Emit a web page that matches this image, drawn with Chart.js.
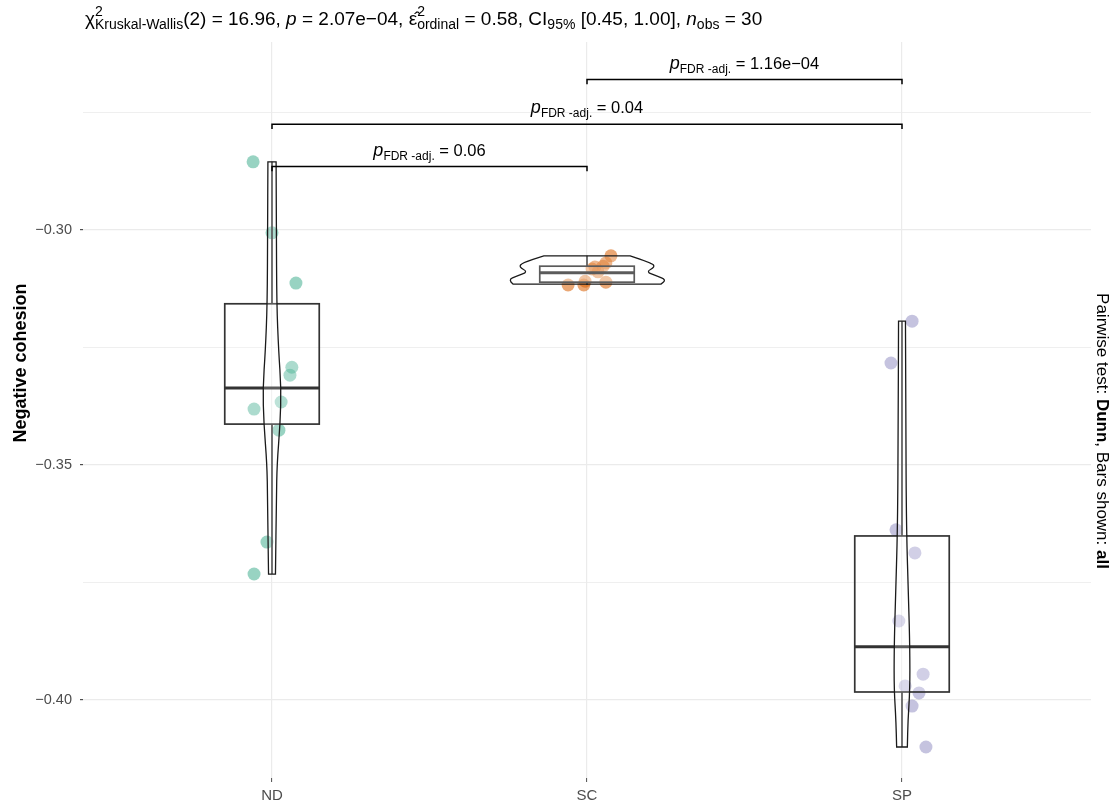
<!DOCTYPE html>
<html>
<head>
<meta charset="utf-8">
<script src="https://cdn.jsdelivr.net/npm/chart.js@4/dist/chart.umd.min.js"></script>
<style>
  html, body { margin: 0; padding: 0; background: #ffffff; }
  #wrap { width: 1116px; height: 809px; }
</style>
</head>
<body>
<div id="wrap"><canvas id="c" width="1116" height="809"></canvas></div>
<script>
// ---- data ----
const categories = ['ND', 'SC', 'SP'];

// observed values per group and their horizontal jitter (in category units)
const ndValues = [-0.2855, -0.3006, -0.3113, -0.3292, -0.3309, -0.3366, -0.3381, -0.3426, -0.3664, -0.3732];
const ndJitter = [-0.060, 0.000, 0.076, 0.063, 0.057, 0.029, -0.057, 0.022, -0.016, -0.057];
const scValues = [-0.3055, -0.3070, -0.3077, -0.3079, -0.3083, -0.3089, -0.3109, -0.3111, -0.3117, -0.3117];
const scJitter = [0.076, 0.060, 0.051, 0.025, 0.016, 0.035, -0.006, 0.060, -0.010, -0.060];
const spValues = [-0.3194, -0.3283, -0.3638, -0.3687, -0.3832, -0.3945, -0.3970, -0.3985, -0.4013, -0.4100];
const spJitter = [0.032, -0.035, -0.019, 0.041, -0.010, 0.067, 0.010, 0.054, 0.032, 0.076];

// box-plot statistics (ND, SC, SP)
const whiskerHigh = [-0.2855, -0.3055, -0.3194];
const boxQ3       = [-0.3157, -0.3077, -0.3651];
const boxMedian   = [-0.3336, -0.3091, -0.3887];
const boxQ1       = [-0.3413, -0.3111, -0.3983];
const whiskerLow  = [-0.3732, -0.3117, -0.4100];

// violin outlines: levels (top to bottom) and half-widths in category units
const ndViolinLevels = [-0.2855, -0.3000, -0.3157, -0.3257, -0.3336, -0.3411, -0.3498, -0.3570, -0.3732];
const ndViolinHalf   = [0.013, 0.014, 0.015, 0.021, 0.029, 0.026, 0.016, 0.014, 0.011];
const scViolinLevels = [-0.3055, -0.3070, -0.3079, -0.3089, -0.3098, -0.3106, -0.3115];
const scViolinHalf   = [0.137, 0.206, 0.216, 0.187, 0.222, 0.251, 0.235];
const spViolinLevels = [-0.3194, -0.3400, -0.3638, -0.3787, -0.3894, -0.3979, -0.4043, -0.4100];
const spViolinHalf   = [0.011, 0.012, 0.014, 0.021, 0.025, 0.025, 0.019, 0.017];

// pairwise comparison brackets
const sigFrom    = [1, 1, 2];
const sigTo      = [2, 3, 3];
const sigHeights = [-0.2865, -0.2775, -0.2680];
const sigPValues = ['0.06', '0.04', '1.16e\u221204'];

// axis ticks
const yMajorTicks = [-0.40, -0.35, -0.30];
const yMinorTicks = [-0.375, -0.325, -0.275];

const groupColors = ['rgba(27,158,119,0.45)', 'rgba(217,95,2,0.55)', 'rgba(117,112,179,0.42)'];

// ---- helpers ----
const FONT = '"Liberation Sans", Arial, Helvetica, sans-serif';
function fontStr(r) {
  return `${r.style || 'normal'} ${r.weight || 'normal'} ${r.size}px ${FONT}`;
}
function runWidth(ctx, r) {
  if (r.sup !== undefined) {
    ctx.font = fontStr({ size: r.size });
    return Math.max(ctx.measureText(r.sup).width, ctx.measureText(r.sub).width);
  }
  ctx.font = fontStr(r);
  return ctx.measureText(r.t).width;
}
function drawRich(ctx, runs, x, y, align) {
  const total = runs.reduce((s, r) => s + runWidth(ctx, r), 0);
  let cx = align === 'center' ? x - total / 2 : x;
  ctx.textAlign = 'left';
  ctx.textBaseline = 'alphabetic';
  runs.forEach(r => {
    const w = runWidth(ctx, r);
    if (r.sup !== undefined) {
      ctx.font = fontStr({ size: r.size });
      ctx.fillText(r.sup, cx, y + r.supDy);
      ctx.fillText(r.sub, cx, y + r.subDy);
    } else {
      ctx.font = fontStr(r);
      ctx.fillText(r.t, cx, y + (r.dy || 0));
    }
    cx += w;
  });
}
function sidePath(ctx, pts, first) {
  // smooth curve through the outline points using midpoints
  if (first) ctx.moveTo(pts[0][0], pts[0][1]); else ctx.lineTo(pts[0][0], pts[0][1]);
  for (let i = 1; i < pts.length - 1; i++) {
    const mx = (pts[i][0] + pts[i + 1][0]) / 2, my = (pts[i][1] + pts[i + 1][1]) / 2;
    ctx.quadraticCurveTo(pts[i][0], pts[i][1], mx, my);
  }
  const last = pts[pts.length - 1];
  ctx.lineTo(last[0], last[1]);
}

const violins = [
  { levels: ndViolinLevels, half: ndViolinHalf },
  { levels: scViolinLevels, half: scViolinHalf },
  { levels: spViolinLevels, half: spViolinHalf }
];

const overlay = {
  id: 'overlay',
  afterDatasetsDraw(chart) {
    const { ctx, scales: { x, y } } = chart;
    ctx.save();

    // box plots
    categories.forEach((c, i) => {
      const cx = i + 1;
      const xl = x.getPixelForValue(cx - 0.15), xr = x.getPixelForValue(cx + 0.15), xm = x.getPixelForValue(cx);
      ctx.strokeStyle = '#333333';
      ctx.lineWidth = 1.7;
      ctx.beginPath();
      ctx.moveTo(xm, y.getPixelForValue(boxQ3[i])); ctx.lineTo(xm, y.getPixelForValue(whiskerHigh[i]));
      ctx.moveTo(xm, y.getPixelForValue(boxQ1[i])); ctx.lineTo(xm, y.getPixelForValue(whiskerLow[i]));
      ctx.stroke();
      const yt = y.getPixelForValue(boxQ3[i]), yb = y.getPixelForValue(boxQ1[i]);
      ctx.fillStyle = 'rgba(255,255,255,0.2)';
      ctx.fillRect(xl, yt, xr - xl, yb - yt);
      ctx.strokeRect(xl, yt, xr - xl, yb - yt);
      ctx.lineWidth = 3;
      ctx.beginPath();
      const ym = y.getPixelForValue(boxMedian[i]);
      ctx.moveTo(xl, ym); ctx.lineTo(xr, ym);
      ctx.stroke();
    });

    // violins
    violins.forEach((v, i) => {
      const cx = i + 1;
      const right = v.levels.map((lv, k) => [x.getPixelForValue(cx + v.half[k]), y.getPixelForValue(lv)]);
      const left = v.levels.map((lv, k) => [x.getPixelForValue(cx - v.half[k]), y.getPixelForValue(lv)]).reverse();
      ctx.beginPath();
      sidePath(ctx, right, true);
      sidePath(ctx, left, false);
      ctx.closePath();
      ctx.fillStyle = 'rgba(255,255,255,0.2)';
      ctx.fill();
      ctx.strokeStyle = '#1a1a1a';
      ctx.lineWidth = 1.3;
      ctx.stroke();
    });

    // pairwise brackets and labels
    const tip = 0.001;
    sigHeights.forEach((h, k) => {
      const x1 = x.getPixelForValue(sigFrom[k]), x2 = x.getPixelForValue(sigTo[k]);
      const yh = y.getPixelForValue(h), yd = y.getPixelForValue(h - tip);
      ctx.strokeStyle = '#000000';
      ctx.lineWidth = 1.5;
      ctx.beginPath();
      ctx.moveTo(x1, yd); ctx.lineTo(x1, yh); ctx.lineTo(x2, yh); ctx.lineTo(x2, yd);
      ctx.stroke();
      ctx.fillStyle = '#000000';
      drawRich(ctx, [
        { t: 'p', size: 18, style: 'italic' },
        { t: 'FDR -adj.', size: 12, dy: 4 },
        { t: ' = ' + sigPValues[k], size: 16.5 }
      ], (x1 + x2) / 2, yh - 11, 'center');
    });
    ctx.restore();
  },
  afterDraw(chart) {
    const { ctx } = chart;
    ctx.save();
    ctx.fillStyle = '#000000';
    // statistical summary line
    drawRich(ctx, [
      { t: '\u03C7', size: 19 },
      { sup: '2', sub: 'Kruskal-Wallis', size: 14, supDy: -9, subDy: 4 },
      { t: '(2) = 16.96, ', size: 19 },
      { t: 'p', size: 19, style: 'italic' },
      { t: ' = 2.07e\u221204, ', size: 19 },
      { t: '\u03B5\u0302', size: 19 },
      { sup: '2', sub: 'ordinal', size: 14, supDy: -9, subDy: 4 },
      { t: ' = 0.58, CI', size: 19 },
      { t: '95%', size: 14, dy: 4 },
      { t: ' [0.45, 1.00], ', size: 19 },
      { t: 'n', size: 19, style: 'italic' },
      { t: 'obs', size: 14, dy: 4 },
      { t: ' = 30', size: 19 }
    ], 85, 25, 'left');

    // y-axis title
    ctx.save();
    ctx.translate(19, 363);
    ctx.rotate(-Math.PI / 2);
    drawRich(ctx, [{ t: 'Negative cohesion', size: 18, weight: 'bold' }], 0, 6.5, 'center');
    ctx.restore();

    // right-hand caption
    ctx.save();
    ctx.translate(1103, 431);
    ctx.rotate(Math.PI / 2);
    drawRich(ctx, [
      { t: 'Pairwise test: ', size: 17 },
      { t: 'Dunn', size: 17, weight: 'bold' },
      { t: ', Bars shown: ', size: 17 },
      { t: 'all', size: 17, weight: 'bold' }
    ], 0, 6, 'center');
    ctx.restore();
    ctx.restore();
  }
};

const toPoints = (vals, jit, g) => vals.map((v, k) => ({ x: g + jit[k], y: v }));
const isMajor = v => yMajorTicks.some(t => Math.abs(t - v) < 1e-9);

new Chart(document.getElementById('c'), {
  type: 'scatter',
  data: {
    datasets: [
      { label: categories[0], data: toPoints(ndValues, ndJitter, 1), backgroundColor: groupColors[0] },
      { label: categories[1], data: toPoints(scValues, scJitter, 2), backgroundColor: groupColors[1] },
      { label: categories[2], data: toPoints(spValues, spJitter, 3), backgroundColor: groupColors[2] }
    ]
  },
  options: {
    responsive: false,
    animation: false,
    layout: { padding: { top: 42, right: 25, left: 0, bottom: 0 } },
    elements: { point: { radius: 6.5, borderWidth: 0, hoverRadius: 6.5 } },
    plugins: { legend: { display: false }, tooltip: { enabled: false } },
    scales: {
      x: {
        type: 'linear', min: 0.4, max: 3.6,
        afterBuildTicks: s => { s.ticks = categories.map((c, i) => ({ value: i + 1 })); },
        afterFit: s => { s.height = 31; },
        ticks: {
          autoSkip: false, maxRotation: 0, padding: 5,
          color: '#4D4D4D', font: { family: FONT, size: 15 },
          callback: v => categories[Math.round(v) - 1]
        },
        grid: { color: '#EBEBEB', lineWidth: 1.2, tickLength: 4, tickColor: '#4D4D4D', tickWidth: 1 },
        border: { display: false }
      },
      y: {
        type: 'linear', min: -0.4166, max: -0.2600,
        afterBuildTicks: s => {
          s.ticks = yMajorTicks.concat(yMinorTicks).sort((a, b) => a - b).map(v => ({ value: v }));
        },
        afterFit: s => { s.width = 83; },
        ticks: {
          autoSkip: false, padding: 8,
          color: '#4D4D4D', font: { family: FONT, size: 14.5 },
          callback: v => isMajor(v) ? '\u2212' + Math.abs(v).toFixed(2) : ''
        },
        grid: {
          color: '#EBEBEB',
          lineWidth: c => (c.tick && isMajor(c.tick.value)) ? 1.2 : 0.8,
          tickLength: 3,
          tickColor: c => (c.tick && isMajor(c.tick.value)) ? '#4D4D4D' : 'rgba(0,0,0,0)'
        },
        border: { display: false }
      }
    }
  },
  plugins: [overlay]
});
</script>
</body>
</html>
